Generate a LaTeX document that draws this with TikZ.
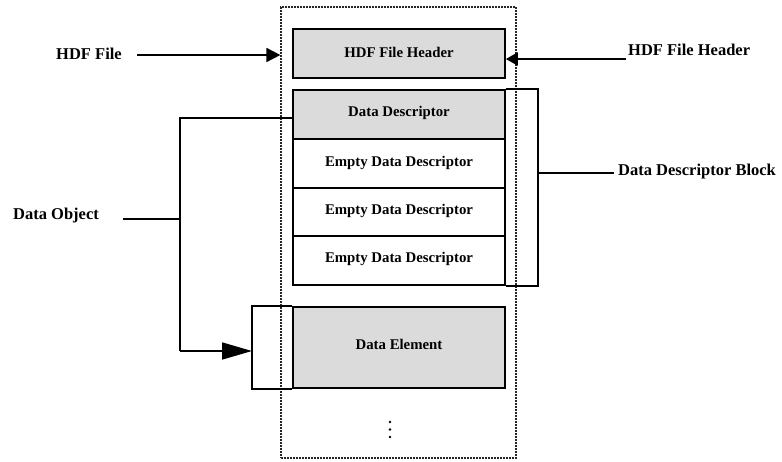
\documentclass[tikz,border=0pt]{standalone}
\usepackage{fontspec}
\setmainfont{Liberation Serif}
\usetikzlibrary{arrows.meta}
\begin{document}
\begin{tikzpicture}[x=1pt,y=-1pt,
  boxfill/.style={draw=black,line width=1.7pt,fill=black!14,minimum width=212pt,inner sep=0pt,
     font=\fontsize{14.8}{16}\selectfont\bfseries},
  boxwhite/.style={draw=black,line width=1.7pt,fill=white,minimum width=212pt,inner sep=0pt,
     font=\fontsize{14.8}{16}\selectfont\bfseries},
  outlbl/.style={inner sep=0pt,font=\fontsize{16.5}{18}\selectfont\bfseries},
  conn/.style={line width=1.7pt,draw=black},
  tipS/.style={-{Triangle[length=14pt,width=14pt]}},
  tipL/.style={-{Triangle[length=30pt,width=17pt]}}]
\useasboundingbox (0,0) rectangle (782,461);
% outer container
\node[draw=black!85,line width=1.2pt,dash pattern=on 2pt off 1pt,minimum width=235pt,minimum height=451pt,inner sep=0pt] (outer) at (398.5,232.5) {};
% boxes
\node[boxfill,minimum height=49pt] (hdr) at (399,53.5) {\raisebox{3pt}{HDF File Header}};
\node[boxfill,minimum height=49pt] (dd) at (399,114.5) {\raisebox{6pt}{Data Descriptor}};
\node[boxwhite,minimum height=49pt] (e1) at (399,163.5) {\raisebox{5pt}{Empty Data Descriptor}};
\node[boxwhite,minimum height=48pt] (e2) at (399,212) {\raisebox{6pt}{Empty Data Descriptor}};
\node[boxwhite,minimum height=49pt] (e3) at (399,260.5) {\raisebox{6pt}{Empty Data Descriptor}};
\node[boxfill,minimum height=81pt] (de) at (399,347.5) {\raisebox{6pt}{Data Element}};
% dots
\fill (390,422) circle (1.3pt) (390,429.5) circle (1.3pt) (390,437) circle (1.3pt);
% outer labels
\node[outlbl] (hdflbl) at (89,54) {HDF File};
\node[outlbl,anchor=west] (hdrlbl) at (628,50) {HDF File Header};
\node[outlbl,anchor=west] (ddblbl) at (618,172) {Data Descriptor Block};
\node[outlbl] (dolbl) at (56,216) {Data Object};
% HDF File arrow
\coordinate (a1) at (137,55);
\draw[conn,tipS] (a1) -- (outer.west |- a1);
% HDF File Header arrow
\coordinate (a2) at (626,59);
\draw[conn,-{Triangle[length=12pt,width=13pt]}] (a2) -- (hdr.east |- a2);
% Data Descriptor Block bracket
\coordinate (brR) at (538,173);
\draw[conn] (dd.north east) -- (dd.north east -| brR) -- (e3.south east -| brR) -- (e3.south east);
\draw[conn,shorten >=4pt] (brR) -- (ddblbl.west |- brR);
% Data Object
\coordinate (do1) at (123,219);
\coordinate (doV) at (180,219);
\coordinate (doT) at (180,118);
\coordinate (doB) at (180,351);
\coordinate (brL) at (252,351);
\draw[conn] (do1) -- (doV);
\draw[conn] (dd.west |- doT) -- (doT) -- (doB);
\draw[conn,tipL] (doB) -- (brL);
\draw[conn] (de.north west) -- (de.north west -| brL) -- (de.south west -| brL) -- (de.south west);
\end{tikzpicture}
\end{document}
